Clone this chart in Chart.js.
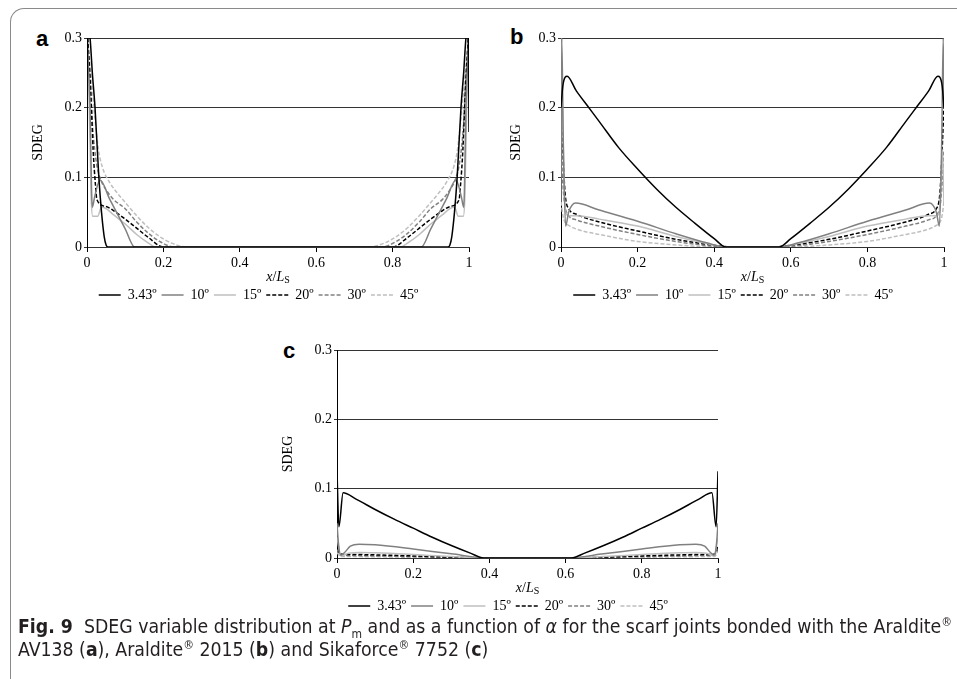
<!DOCTYPE html>
<html>
<head>
<meta charset="utf-8">
<script src="https://cdn.jsdelivr.net/npm/chart.js@4.4.0/dist/chart.umd.min.js"></script>
<style>
  html, body { margin:0; padding:0; background:#fff; width:957px; height:679px; overflow:hidden; }
  #frame { position:absolute; left:10px; top:8px; width:960px; height:700px; border-top:1px solid #8a8a8a; border-left:1px solid #8a8a8a; border-top-left-radius:14px; }
  canvas { position:absolute; }
  .tag { position:absolute; font:bold 22px "Liberation Sans", Arial, sans-serif; color:#000; line-height:22px; }
  #caption { position:absolute; left:18px; top:615px; font:19.3px "DejaVu Sans Condensed", sans-serif; line-height:23px; color:#231f20; white-space:nowrap; }
  #caption sup, #caption sub { font-size:12px; line-height:0; }
</style>
</head>
<body>
<div id="frame"></div>
<div class="tag" style="left:36px;top:28px">a</div>
<div class="tag" style="left:510px;top:26px">b</div>
<div class="tag" style="left:283px;top:340px">c</div>
<canvas id="ca" width="470" height="292" style="left:20px;top:20px"></canvas>
<canvas id="cb" width="460" height="292" style="left:494px;top:20px"></canvas>
<canvas id="cc" width="470" height="291" style="left:270px;top:332px"></canvas>
<div id="caption"><b>Fig. 9</b>&nbsp; SDEG variable distribution at <i>P</i><sub>m</sub> and as a function of <i>α</i> for the scarf joints bonded with the Araldite<sup>®</sup><br>AV138 (<b>a</b>), Araldite<sup>®</sup> 2015 (<b>b</b>) and Sikaforce<sup>®</sup> 7752 (<b>c</b>)</div>
<script>
const SERIES_LABELS = ['3.43º', '10º', '15º', '20º', '30º', '45º'];
const X_TICKS = [0, 0.2, 0.4, 0.6, 0.8, 1];
const Y_TICKS = [0, 0.1, 0.2, 0.3];

// panel a - Araldite AV138, points are [x/Ls, SDEG]
const A_343 = [[0,0.165],[0.002,0.32],[0.008,0.3],[0.014,0.25],[0.021,0.2],[0.031,0.1],[0.038,0.05],[0.045,0.015],[0.05,0.003],[0.055,0],
  [0.945,0],[0.95,0.003],[0.955,0.015],[0.962,0.05],[0.969,0.1],[0.979,0.2],[0.986,0.25],[0.992,0.3],[0.998,0.32],[1,0.165]];
const A_10 = [[0,0.3],[0.008,0.2],[0.012,0.08],[0.014,0.057],[0.02,0.072],[0.034,0.096],[0.06,0.068],[0.1,0.026],[0.125,0],
  [0.875,0],[0.9,0.026],[0.94,0.068],[0.966,0.096],[0.98,0.072],[0.986,0.057],[0.988,0.08],[0.992,0.2],[1,0.3]];
const A_15 = [[0,0.3],[0.006,0.2],[0.011,0.07],[0.015,0.044],[0.028,0.044],[0.038,0.057],[0.05,0.055],[0.07,0.046],[0.1,0.033],[0.13,0.018],[0.16,0.006],[0.18,0],
  [0.82,0],[0.84,0.006],[0.87,0.018],[0.9,0.033],[0.93,0.046],[0.95,0.055],[0.962,0.057],[0.972,0.044],[0.985,0.044],[0.989,0.07],[0.994,0.2],[1,0.3]];
const A_20 = [[0.002,0.3],[0.01,0.22],[0.016,0.14],[0.022,0.09],[0.026,0.068],[0.05,0.058],[0.075,0.05],[0.1,0.04],[0.13,0.027],[0.16,0.014],[0.2,0],
  [0.8,0],[0.84,0.014],[0.87,0.027],[0.9,0.04],[0.925,0.05],[0.95,0.058],[0.974,0.068],[0.978,0.09],[0.984,0.14],[0.99,0.22],[0.998,0.3]];
const A_30 = [[0,0.3],[0.008,0.24],[0.015,0.17],[0.025,0.12],[0.035,0.098],[0.05,0.082],[0.07,0.068],[0.1,0.055],[0.13,0.036],[0.16,0.02],[0.19,0.008],[0.23,0],
  [0.77,0],[0.81,0.008],[0.84,0.02],[0.87,0.036],[0.9,0.055],[0.93,0.068],[0.95,0.082],[0.965,0.098],[0.975,0.12],[0.985,0.17],[0.992,0.24],[1,0.3]];
const A_45 = [[0,0.3],[0.01,0.25],[0.02,0.19],[0.03,0.14],[0.04,0.115],[0.06,0.092],[0.08,0.077],[0.1,0.064],[0.13,0.045],[0.16,0.028],[0.19,0.015],[0.22,0.006],[0.26,0],
  [0.74,0],[0.78,0.006],[0.81,0.015],[0.84,0.028],[0.87,0.045],[0.9,0.064],[0.92,0.077],[0.94,0.092],[0.96,0.115],[0.97,0.14],[0.98,0.19],[0.99,0.25],[1,0.3]];

// panel b - Araldite 2015
const B_343 = [[0,0.2],[0.005,0.232],[0.016,0.245],[0.04,0.224],[0.07,0.202],[0.1,0.18],[0.15,0.143],[0.2,0.112],[0.25,0.083],[0.3,0.057],[0.35,0.034],[0.4,0.012],[0.43,0],
  [0.57,0],[0.6,0.012],[0.65,0.034],[0.7,0.057],[0.75,0.083],[0.8,0.112],[0.85,0.143],[0.9,0.18],[0.93,0.202],[0.96,0.224],[0.984,0.245],[0.995,0.232],[1,0.2]];
const B_10 = [[0,0.065],[0.002,0.3],[0.006,0.15],[0.012,0.03],[0.02,0.05],[0.038,0.063],[0.1,0.053],[0.2,0.037],[0.3,0.019],[0.38,0.006],[0.43,0],
  [0.57,0],[0.62,0.006],[0.7,0.019],[0.8,0.037],[0.9,0.053],[0.962,0.063],[0.98,0.05],[0.988,0.03],[0.994,0.15],[0.998,0.3],[1,0.2]];
const B_15 = [[0,0.3],[0.004,0.2],[0.008,0.09],[0.012,0.05],[0.02,0.045],[0.04,0.045],[0.1,0.04],[0.2,0.03],[0.3,0.015],[0.38,0.005],[0.43,0],
  [0.57,0],[0.62,0.005],[0.7,0.015],[0.8,0.03],[0.9,0.04],[0.96,0.045],[0.98,0.045],[0.988,0.05],[0.992,0.09],[0.996,0.14],[1,0.06]];
const B_20 = [[0,0.2],[0.004,0.15],[0.008,0.1],[0.012,0.07],[0.02,0.055],[0.04,0.047],[0.1,0.036],[0.2,0.023],[0.3,0.011],[0.38,0.004],[0.45,0],
  [0.55,0],[0.62,0.004],[0.7,0.011],[0.8,0.023],[0.9,0.036],[0.96,0.047],[0.98,0.055],[0.988,0.07],[0.992,0.1],[0.996,0.15],[1,0.205]];
const B_30 = [[0,0.14],[0.005,0.09],[0.01,0.06],[0.02,0.045],[0.04,0.039],[0.1,0.03],[0.2,0.018],[0.3,0.008],[0.38,0.002],[0.45,0],
  [0.55,0],[0.62,0.002],[0.7,0.008],[0.8,0.018],[0.9,0.03],[0.96,0.039],[0.98,0.045],[0.99,0.06],[0.995,0.09],[1,0.14]];
const B_45 = [[0,0.065],[0.005,0.045],[0.01,0.036],[0.02,0.031],[0.05,0.024],[0.1,0.018],[0.2,0.008],[0.3,0.003],[0.4,0],
  [0.6,0],[0.7,0.003],[0.8,0.008],[0.9,0.018],[0.95,0.024],[0.98,0.031],[0.99,0.036],[0.995,0.045],[1,0.065]];

// panel c - Sikaforce 7752
const C_343 = [[0,0.125],[0.005,0.045],[0.016,0.094],[0.05,0.085],[0.1,0.07],[0.15,0.056],[0.2,0.043],[0.25,0.03],[0.3,0.018],[0.35,0.007],[0.385,0],
  [0.615,0],[0.65,0.007],[0.7,0.018],[0.75,0.03],[0.8,0.043],[0.85,0.056],[0.9,0.07],[0.95,0.085],[0.984,0.094],[0.995,0.045],[1,0.125]];
const C_10 = [[0,0.05],[0.004,0.02],[0.01,0.004],[0.02,0.008],[0.035,0.017],[0.058,0.02],[0.1,0.019],[0.2,0.013],[0.3,0.006],[0.4,0],
  [0.6,0],[0.7,0.006],[0.8,0.013],[0.9,0.019],[0.942,0.02],[0.965,0.017],[0.98,0.008],[0.99,0.004],[0.996,0.02],[1,0.05]];
const C_15 = [[0,0.03],[0.01,0.003],[0.03,0.007],[0.06,0.008],[0.1,0.0075],[0.2,0.005],[0.3,0.002],[0.4,0],
  [0.6,0],[0.7,0.002],[0.8,0.005],[0.9,0.0075],[0.94,0.008],[0.97,0.007],[0.99,0.003],[1,0.03]];
const C_20 = [[0,0.022],[0.008,0.006],[0.02,0.005],[0.05,0.005],[0.1,0.0045],[0.2,0.003],[0.3,0.0012],[0.4,0],
  [0.6,0],[0.7,0.0012],[0.8,0.003],[0.9,0.0045],[0.95,0.005],[0.98,0.005],[0.992,0.006],[1,0.018]];
const C_30 = [[0,0.012],[0.01,0.004],[0.05,0.0035],[0.1,0.003],[0.2,0.002],[0.3,0.001],[0.4,0],
  [0.6,0],[0.7,0.001],[0.8,0.002],[0.9,0.003],[0.95,0.0035],[0.99,0.004],[1,0.012]];
const C_45 = [[0,0.008],[0.01,0.002],[0.05,0.002],[0.2,0.001],[0.35,0],
  [0.65,0],[0.8,0.001],[0.95,0.002],[0.99,0.002],[1,0.008]];

const SERIF = '"Liberation Serif", "Times New Roman", serif';
const LINE_COLORS = ['#000000', '#808080', '#bfbfbf', '#000000', '#808080', '#bfbfbf'];
const LINE_DASH = [[], [], [], [4, 2], [4, 2], [4, 2]];

// draws "x/L" with a small subscript S under the x axis
const xTitle = {
  id: 'xTitle',
  afterDraw(chart) {
    const { ctx, chartArea } = chart;
    const y = chartArea.bottom + 30;
    const parts = [['x', 'italic 14px ' + SERIF, 0], ['/', '14px ' + SERIF, 0], ['L', 'italic 14px ' + SERIF, 0], ['S', '10px ' + SERIF, 3]];
    ctx.save();
    ctx.fillStyle = '#000';
    ctx.textBaseline = 'middle';
    let w = 0;
    parts.forEach(p => { ctx.font = p[1]; w += ctx.measureText(p[0]).width; });
    let x = (chartArea.left + chartArea.right) / 2 - w / 2;
    parts.forEach(p => {
      ctx.font = p[1];
      ctx.fillText(p[0], x, y + p[2]);
      x += ctx.measureText(p[0]).width;
    });
    ctx.restore();
  }
};

// the legend in the figure sits a bit right of the canvas centre
const legendShift = {
  id: 'legendShift',
  afterLayout(chart) {
    chart.legend.left += 14;
    chart.legend.right += 14;
  }
};

const makePanel = (id, series, padRight, titlePad) => {
  const ctx = document.getElementById(id).getContext('2d');
  return new Chart(ctx, {
    type: 'line',
    data: {
      datasets: series.map((pts, i) => ({
        label: SERIES_LABELS[i],
        data: pts.map(p => ({ x: p[0], y: p[1] })),
        borderColor: LINE_COLORS[i],
        backgroundColor: LINE_COLORS[i],
        borderDash: LINE_DASH[i],
        borderWidth: 1.5,
        pointRadius: 0,
        cubicInterpolationMode: 'monotone',
        fill: false
      }))
    },
    options: {
      responsive: false,
      animation: false,
      layout: { padding: { top: 18, right: padRight, left: 0, bottom: 0 } },
      plugins: {
        tooltip: { enabled: false },
        legend: {
          position: 'bottom',
          labels: {
            usePointStyle: true,
            pointStyleWidth: 22,
            padding: 5,
            color: '#000',
            font: { family: SERIF, size: 14 },
            generateLabels: chart => chart.data.datasets.map((ds, i) => ({
              text: ds.label,
              strokeStyle: ds.borderColor,
              fillStyle: ds.borderColor,
              lineWidth: ds.borderWidth,
              lineDash: ds.borderDash,
              pointStyle: 'line',
              fontColor: '#000',
              hidden: false,
              datasetIndex: i
            }))
          }
        }
      },
      scales: {
        x: {
          type: 'linear',
          min: 0,
          max: 1,
          afterBuildTicks: s => { s.ticks = X_TICKS.map(v => ({ value: v })); },
          afterFit: s => { s.height = 36; },
          ticks: { color: '#000', padding: 3, maxRotation: 0, font: { family: SERIF, size: 14 }, callback: v => String(v) },
          grid: { drawOnChartArea: false, drawTicks: true, tickLength: 5, color: '#000' },
          border: { color: '#333', width: 1 }
        },
        y: {
          min: 0,
          max: 0.3,
          afterBuildTicks: s => { s.ticks = Y_TICKS.map(v => ({ value: v })); },
          afterFit: s => { s.width = 67; },
          ticks: { color: '#000', padding: 2, font: { family: SERIF, size: 14 }, callback: v => v === 0 ? '0' : v.toFixed(1) },
          grid: { color: '#333', lineWidth: 1, tickLength: 3 },
          border: { color: '#000', width: 1 },
          title: { display: true, text: 'SDEG', color: '#000', padding: { top: titlePad, bottom: 0 }, font: { family: SERIF, size: 14 } }
        }
      }
    },
    plugins: [xTitle, legendShift]
  });
};

makePanel('ca', [A_343, A_10, A_15, A_20, A_30, A_45], 21, 10);
makePanel('cb', [B_343, B_10, B_15, B_20, B_30, B_45], 10, 14);
makePanel('cc', [C_343, C_10, C_15, C_20, C_30, C_45], 22, 10);
</script>
</body>
</html>
